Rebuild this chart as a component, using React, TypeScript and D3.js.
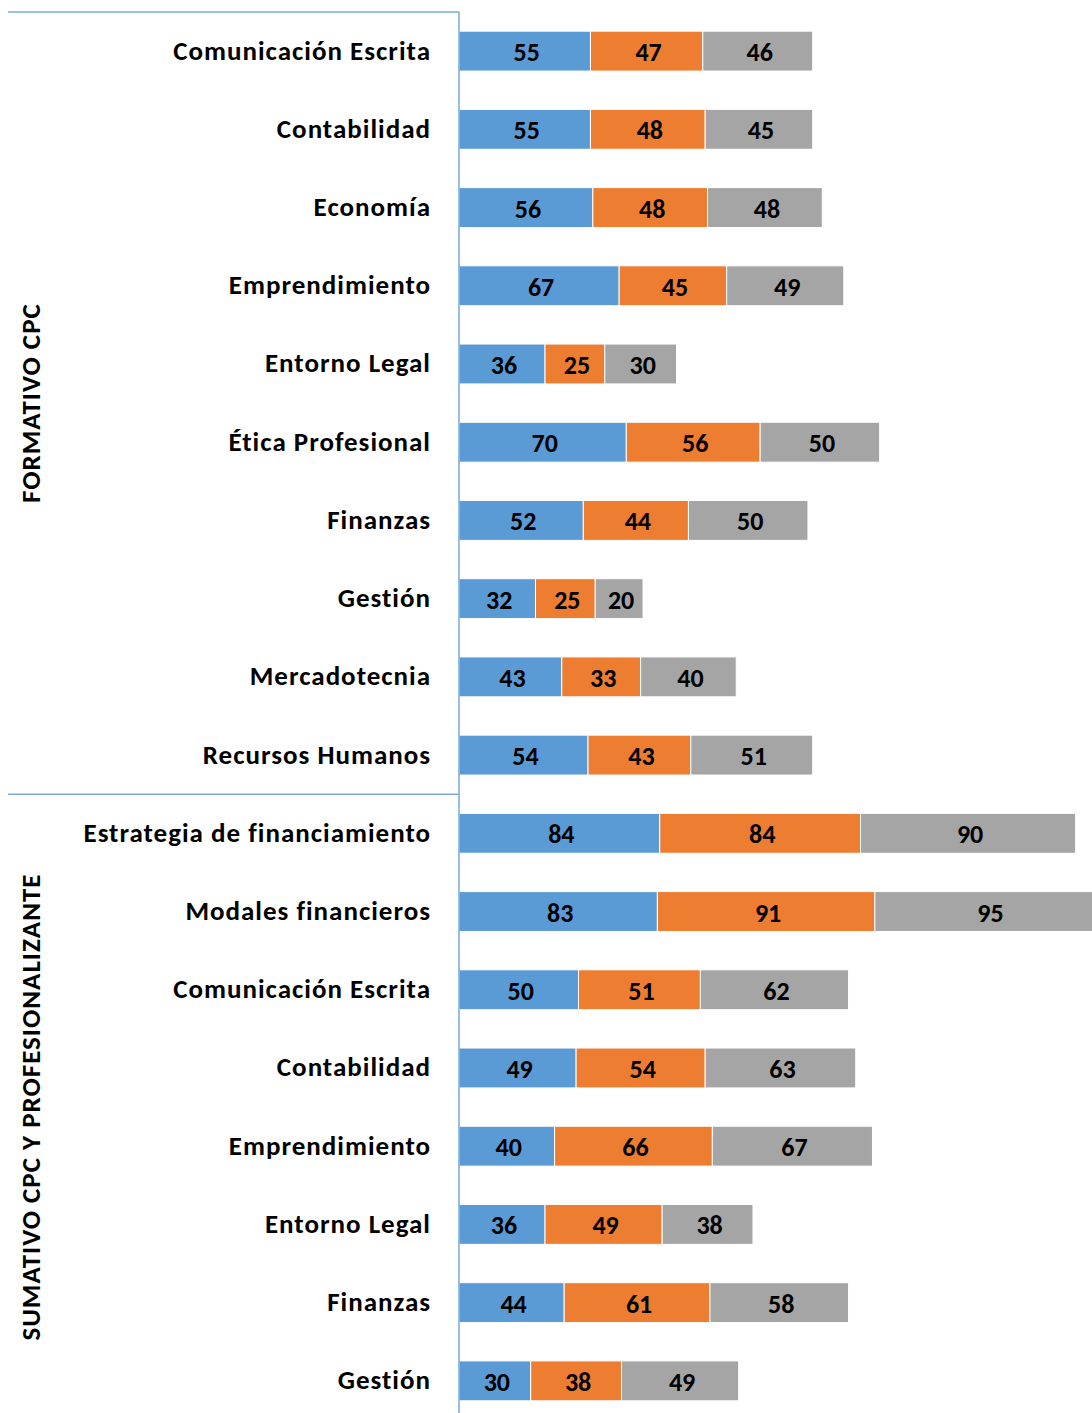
import React from "react";
import * as d3 from "d3";

const categories = [
  "Comunicación Escrita", "Contabilidad", "Economía", "Emprendimiento", "Entorno Legal",
  "Ética Profesional", "Finanzas", "Gestión", "Mercadotecnia", "Recursos Humanos",
  "Estrategia de financiamiento", "Modales financieros", "Comunicación Escrita", "Contabilidad",
  "Emprendimiento", "Entorno Legal", "Finanzas", "Gestión",
];
const series1 = [55, 55, 56, 67, 36, 70, 52, 32, 43, 54, 84, 83, 50, 49, 40, 36, 44, 30];
const series2 = [47, 48, 48, 45, 25, 56, 44, 25, 33, 43, 84, 91, 51, 54, 66, 49, 61, 38];
const series3 = [46, 45, 48, 49, 30, 50, 50, 20, 40, 51, 90, 95, 62, 63, 67, 38, 58, 49];
const groups = [
  { name: "FORMATIVO CPC", start: 0, end: 10 },
  { name: "SUMATIVO CPC Y PROFESIONALIZANTE", start: 10, end: 18 },
];
const colors = ["#5B9BD5", "#ED7D31", "#A5A5A5"];

const FONT = "Carlito, Calibri, Lato, sans-serif";

export default function App() {
  const W = 1092, H = 1413;
  const axisX = 459;
  const top = 12;
  const step = 78.22;
  const idx = categories.map((_, i) => String(i));
  const y = d3.scaleBand<string>().domain(idx).range([top, top + step * categories.length]).paddingInner(0.49).paddingOuter(0.245);
  const x = d3.scaleLinear().domain([0, 100]).range([axisX, axisX + 239]);
  const data = categories.map((c, i) => ({ c, vals: [series1[i], series2[i], series3[i]] }));
  const bandTop = (i: number) => top + step * i;

  return (
    <svg width={W} height={H} style={{ position: "absolute", left: 0, top: 0, background: "#fff" }} fontFamily={FONT}>
      {data.map((d, i) => {
        let acc = 0;
        const yy = y(String(i))!;
        const bh = y.bandwidth();
        return (
          <g key={i}>
            {d.vals.map((v, j) => {
              const x0 = x(acc);
              acc += v;
              const x1 = x(acc);
              return (
                <g key={j}>
                  <rect x={x0} y={yy} width={x1 - x0} height={bh} fill={colors[j]} stroke="#fff" strokeWidth={1} />
                  <text x={(x0 + x1) / 2 + 2} y={yy + bh / 2 + 1} textAnchor="middle" dominantBaseline="central" fontSize={26} fontWeight="bold" fill="#000">{v}</text>
                </g>
              );
            })}
            <text x={431} y={yy + bh / 2 - 1} textAnchor="end" dominantBaseline="central" fontSize={27} letterSpacing={1} fontWeight="bold" fill="#000">{d.c}</text>
          </g>
        );
      })}
      <line x1={axisX} x2={axisX} y1={top} y2={H + 20} stroke="#7AA9DC" strokeWidth={1.5} />
      {groups.map((g, k) => {
        const y0 = bandTop(g.start);
        const y1 = bandTop(g.end);
        return (
          <g key={k}>
            <line x1={8} x2={axisX} y1={y0} y2={y0} stroke="#7AA9DC" strokeWidth={1.5} />
            <text transform={`translate(30,${(y0 + y1) / 2}) rotate(-90)`} textAnchor="middle" dominantBaseline="central" fontSize={27} letterSpacing={1} fontWeight="bold" fill="#000">{g.name}</text>
          </g>
        );
      })}
    </svg>
  );
}
